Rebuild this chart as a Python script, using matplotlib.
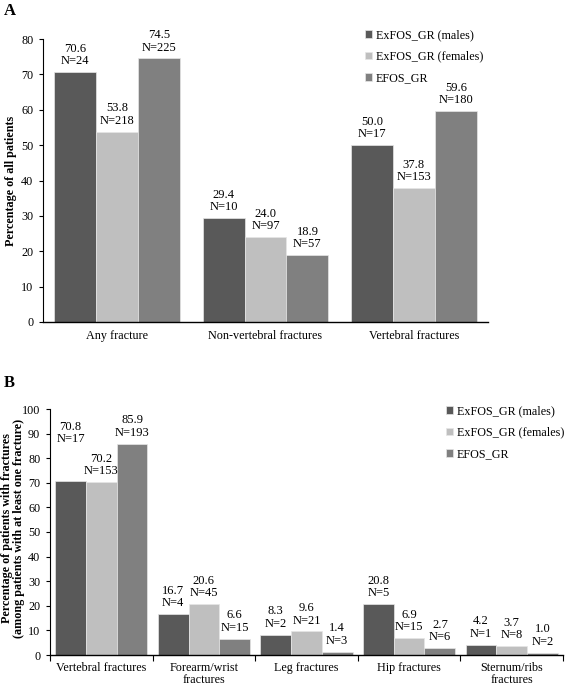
import matplotlib
matplotlib.use("Agg")
import matplotlib.pyplot as plt
import numpy as np

plt.rcParams['font.family'] = ['Liberation Serif', 'DejaVu Serif']

series = ["ExFOS_GR (males)", "ExFOS_GR (females)", "EFOS_GR"]
colors = ["#595959", "#bfbfbf", "#808080"]

cats_a = ["Any fracture", "Non-vertebral fractures", "Vertebral fractures"]
pct_a = [[70.6, 29.4, 50.0], [53.8, 24.0, 37.8], [74.5, 18.9, 59.6]]
n_a = [[24, 10, 17], [218, 97, 153], [225, 57, 180]]

cats_b = ["Vertebral fractures", "Forearm/wrist\nfractures", "Leg fractures",
          "Hip fractures", "Sternum/ribs\nfractures"]
pct_b = [[70.8, 16.7, 8.3, 20.8, 4.2], [70.2, 20.6, 9.6, 6.9, 3.7],
         [85.9, 6.6, 1.4, 2.7, 1.0]]
n_b = [[17, 4, 2, 5, 1], [153, 45, 21, 15, 8], [193, 15, 3, 6, 2]]

W, H = 568, 687
fig = plt.figure(figsize=(W / 100, H / 100), dpi=100)

FS = 8.7
FSN = 9


def panel(box, cats, pct, ns, ymax, ystep, bw, legend_xy, xticks_between, extra_off=None):
    l, t, r, b = box
    ax = fig.add_axes([l / W, 1 - b / H, (r - l) / W, (b - t) / H])
    x = np.arange(len(cats))
    for i in range(3):
        xs = x + (i - 1) * bw
        ax.bar(xs, pct[i], width=bw, color=colors[i], edgecolor="#e6e6e6",
               linewidth=0.5, label=series[i])
        for j, (xx, v, n) in enumerate(zip(xs, pct[i], ns[i])):
            off = 3.5
            if extra_off and (i, j) in extra_off:
                off += extra_off[(i, j)]
            ax.annotate(f"{v:.1f}\nN={n}", (xx, v), xytext=(0, off),
                        textcoords="offset points", ha="center", va="bottom",
                        fontsize=FSN, linespacing=1.05, annotation_clip=False)
    ax.set_xlim(-0.5, len(cats) - 0.5)
    ax.set_ylim(0, ymax)
    ax.set_yticks(np.arange(0, ymax + 1, ystep))
    ax.tick_params(axis="y", labelsize=FS, length=3, width=0.8, pad=4)
    for s in ["top", "right"]:
        ax.spines[s].set_visible(False)
    ax.spines["left"].set_linewidth(0.8)
    ax.spines["bottom"].set_linewidth(1.0)
    if xticks_between:
        ax.set_xticks(np.arange(-0.5, len(cats), 1.0))
        ax.set_xticklabels([])
        ax.set_xticks(x, minor=True)
        ax.set_xticklabels(cats, minor=True, fontsize=FS, linespacing=1.0)
        ax.tick_params(axis="x", which="major", length=4, width=0.8, direction="out")
        ax.tick_params(axis="x", which="minor", length=0, pad=5)
    else:
        ax.set_xticks(x)
        ax.set_xticklabels(cats, fontsize=FS)
        ax.tick_params(axis="x", length=0, pad=6)
    fig.legend(*ax.get_legend_handles_labels(), loc="upper left",
               bbox_to_anchor=legend_xy, frameon=False, fontsize=FS,
               handlelength=0.6, handleheight=0.6, handletextpad=0.3,
               labelspacing=0.8, borderaxespad=0, borderpad=0)
    return ax


axA = panel((43, 39, 488, 322), cats_a, pct_a, n_a, 80, 10, 0.283,
            (365 / W, 1 - 29 / H), False)

axB = panel((50, 409, 563, 655), cats_b, pct_b, n_b, 100, 10, 0.3,
            (446 / W, 1 - 405 / H), True, extra_off={(0, 0): 22})

fig.text(11 / W, 1 - 181 / H, "Percentage of all patients", rotation=90,
         fontsize=FS, fontweight="bold", ha="center", va="center")
fig.text(13 / W, 1 - 528 / H,
         "Percentage of patients with fractures\n(among patients with at least one fracture)",
         rotation=90, fontsize=FS, fontweight="bold", ha="center", va="center",
         linespacing=1.0, multialignment="center")

fig.text(4 / W, 1 - 11 / H, "A", fontsize=12, fontweight="bold", va="center", ha="left")
fig.text(4 / W, 1 - 383 / H, "B", fontsize=12, fontweight="bold", va="center", ha="left")

fig.savefig("out.png", dpi=100)
